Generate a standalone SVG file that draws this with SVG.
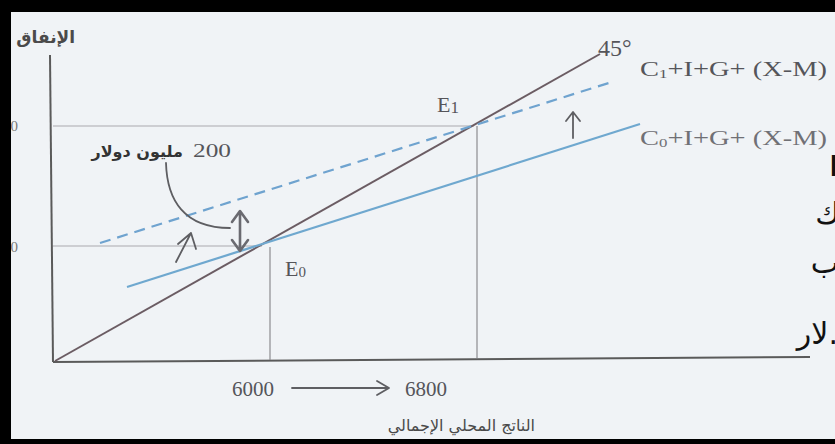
<svg xmlns="http://www.w3.org/2000/svg" width="835" height="444" viewBox="0 0 835 444">
<style>
.axis{stroke:#5a5a5a;stroke-width:2;fill:none}
.guide{stroke:#a9a9ad;stroke-width:1.2;fill:none}
.vguide{stroke:#8c8c90;stroke-width:1.2;fill:none}
.l45{stroke:#6b5c63;stroke-width:2;fill:none}
.c0{stroke:#6fa8cf;stroke-width:2.2;fill:none}
.c1{stroke:#6fa3cf;stroke-width:2.2;fill:none;stroke-dasharray:11 7}
.arr{stroke:#5e5e62;stroke-width:1.8;fill:none;stroke-linecap:round;stroke-linejoin:round}
.lat{font-family:"Liberation Serif","Times New Roman",serif;fill:#55555a}
.ar{font-family:"DejaVu Sans","Noto Sans",sans-serif;font-weight:bold}
.frag{font-family:"DejaVu Sans","Noto Sans",sans-serif;fill:#111}
</style>
<rect x="0" y="0" width="835" height="444" fill="#f0f3f6"/>
<g id="axes">
<line class="axis" x1="50" y1="55" x2="53" y2="362"/>
<line class="axis" x1="53" y1="362" x2="810" y2="357"/>
</g>
<g id="connectors">
<line class="guide" x1="53" y1="126" x2="474" y2="126"/>
<line class="guide" x1="53" y1="246" x2="262" y2="246"/>
<line class="vguide" x1="270" y1="247" x2="270" y2="360"/>
<line class="vguide" x1="477" y1="126" x2="477" y2="358"/>
<line id="line45" class="l45" x1="55" y1="361" x2="600" y2="54"/>
<line id="lineC0" class="c0" x1="127" y1="287" x2="640" y2="124"/>
<line id="lineC1" class="c1" x1="100" y1="243" x2="612" y2="82"/>
<path class="arr" d="M166 163 C167 200 184 228 230 228"/>
<path class="arr" style="stroke-width:2.6;stroke:#6a6a70" d="M240 213 L240 249 M232 222 L240 211 L248 222 M232 240 L240 251 L248 240"/>
<path class="arr" d="M176 262 L191 233 M178 244 L191 233 L196 249"/>
<path class="arr" d="M573 138 L573 113 M566 121 L573 112 L580 121"/>
<path class="arr" d="M292 388 L388 388 M377 381 L389 388 L377 395"/>
</g>
<g id="label-yaxis"><text class="ar" x="75" y="43" font-size="17" fill="#4a4a4a" text-anchor="end">الإنفاق</text></g>
<g id="label-45"><text class="lat" x="598" y="56" font-size="24">45°</text></g>
<g id="label-C1"><text class="lat" x="640" y="76" font-size="22" textLength="187" lengthAdjust="spacingAndGlyphs">C<tspan font-size="13" dy="2">1</tspan><tspan dy="-2">+I+G+ (X-M)</tspan></text></g>
<g id="label-C0"><text class="lat" x="640" y="145" font-size="22" textLength="187" lengthAdjust="spacingAndGlyphs" style="fill:#707075">C<tspan font-size="13" dy="2">0</tspan><tspan dy="-2">+I+G+ (X-M)</tspan></text></g>
<g id="label-E1"><text class="lat" x="437" y="112" font-size="22">E<tspan font-size="17" dy="1">1</tspan></text></g>
<g id="label-E0"><text class="lat" x="285" y="276" font-size="22">E<tspan font-size="15" dy="1">0</tspan></text></g>
<g id="label-200">
<text class="lat" x="193" y="157" font-size="19" textLength="38" lengthAdjust="spacingAndGlyphs">200</text>
<text class="ar" x="183" y="157" font-size="16" fill="#333" text-anchor="end">مليون دولار</text>
</g>
<g id="label-6000"><text class="lat" x="232" y="396" font-size="21">6000</text></g>
<g id="label-6800"><text class="lat" x="405" y="396" font-size="21">6800</text></g>
<g id="label-xaxis"><text x="535" y="431" font-size="16" fill="#4a4a4a" text-anchor="end" font-family="DejaVu Sans, Noto Sans, sans-serif">الناتج المحلي الإجمالي</text></g>
<g id="fragments">
<text x="18" y="131" font-size="15" fill="#777" text-anchor="end" font-family="Liberation Serif, serif">0</text>
<text x="18" y="252" font-size="15" fill="#777" text-anchor="end" font-family="Liberation Serif, serif">0</text>
<text class="frag" x="839" y="176" font-size="28" font-weight="bold" text-anchor="end">ا</text>
<text class="frag" x="840" y="224" font-size="30" text-anchor="end">ك</text>
<text class="frag" x="839" y="273" font-size="30" text-anchor="end">ب</text>
<text class="frag" x="838" y="344" font-size="30" text-anchor="end">لار.</text>
</g>
<g id="frame" fill="#000">
<rect x="0" y="0" width="835" height="12"/>
<rect x="0" y="0" width="11" height="444"/>
<rect x="0" y="439" width="835" height="5"/>
</g>
</svg>
